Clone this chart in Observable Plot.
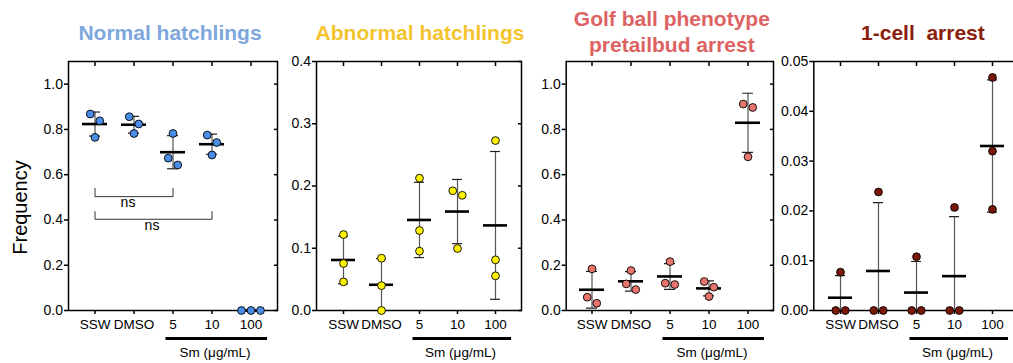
<!DOCTYPE html>
<html>
<head>
<meta charset="utf-8">
<script src="https://cdn.jsdelivr.net/npm/d3@7"></script>
<script src="https://cdn.jsdelivr.net/npm/@observablehq/plot@0.6"></script>
<style>
  html, body { margin: 0; padding: 0; background: #fff; overflow: hidden; }
  #wrap { position: relative; width: 1013px; height: 363px; overflow: hidden; background: #fff;
          font-family: "Liberation Sans", Arial, Helvetica, sans-serif; }
</style>
</head>
<body>
<div id="wrap"></div>
<script>
// ---------------- data ----------------
const categories = ["SSW", "DMSO", "5", "10", "100"];

const normalHatchlings = [
  [0.868, 0.838, 0.765],
  [0.856, 0.824, 0.782],
  [0.782, 0.673, 0.643],
  [0.775, 0.742, 0.687],
  [0, 0, 0]
];
const abnormalHatchlings = [
  [0.122, 0.0755, 0.046],
  [0.084, 0.040, 0],
  [0.2126, 0.1285, 0.0953],
  [0.1923, 0.185, 0.0996],
  [0.273, 0.0814, 0.0557]
];
const golfBallArrest = [
  [0.184, 0.0588, 0.032],
  [0.1765, 0.1176, 0.0926],
  [0.216, 0.1147, 0.1206],
  [0.128, 0.103, 0.0618],
  [0.912, 0.897, 0.679]
];
const oneCellArrest = [
  [0.0077, 0, 0],
  [0.0238, 0, 0],
  [0.0108, 0, 0],
  [0.0207, 0, 0],
  [0.0468, 0.0320, 0.0203]
];

const titles = ["Normal hatchlings", "Abnormal hatchlings", "Golf ball phenotype\npretailbud arrest", "1-cell  arrest"];
const yMax = [1.1, 0.4, 1.1, 0.05];
const yTicks = [
  [0, 0.2, 0.4, 0.6, 0.8, 1.0],
  [0, 0.1, 0.2, 0.3, 0.4],
  [0, 0.2, 0.4, 0.6, 0.8, 1.0],
  [0, 0.01, 0.02, 0.03, 0.04, 0.05]
];
const yTickFormats = [".1f", ".1f", ".1f", ".2f"];
const yLabel = "Frequency";
const treatmentLabel = "Sm (μg/mL)";
const treatmentSpan = {from: "5", to: "100", mid: "10", y: 0};
const comparisons = [
  {k: 0, from: "SSW", to: "5", label: "ns", y: 0.503, top: 0.54},
  {k: 1, from: "SSW", to: "10", label: "ns", y: 0.403, top: 0.437}
];

// ---------------- styles / layout ----------------
const titleColors = ["#7EA7DE", "#F4C42E", "#DD6262", "#8A1D0C"];
const dotColors = ["#4A8DE6", "#FFF200", "#E8756D", "#7A1808"];
const layout = [
  {left: 0,   width: 288, marginLeft: 68,   marginRight: 11,  titleDx: -3, titleDy: -22},
  {left: 288, width: 252, marginLeft: 28,   marginRight: 19,  titleDx: 1,  titleDy: -22},
  {left: 540, width: 240, marginLeft: 25.7, marginRight: 7,   titleDx: 2,  titleDy: -9.5},
  {left: 780, width: 244, marginLeft: 33.3, marginRight: 4.5, titleDx: 6,  titleDy: -22}
];
const FONT = "'Liberation Sans', Arial, Helvetica, sans-serif";

// GraphPad-like scatter: points overlapping vertically are placed side by side,
// computed in pixel space from Plot's own scales.
function swarm(r, spacing) {
  return (data, facets, channels, scales) => {
    const X = channels.x.value, Y = channels.y.value;
    const sx = scales.x, sy = scales.y;
    const n = X.length;
    const px = new Float64Array(n), py = new Float64Array(n);
    for (let i = 0; i < n; ++i) py[i] = sy(Y[i]);
    const groups = d3.group(d3.range(n), i => X[i]);
    for (const [cat, idx] of groups) {
      const cx = sx(cat);
      idx.sort((a, b) => py[a] - py[b]);
      let cluster = [];
      const flush = () => {
        cluster.forEach((j, k) => px[j] = cx + (k - (cluster.length - 1) / 2) * spacing);
        cluster = [];
      };
      for (const j of idx) {
        if (cluster.length && py[j] - py[cluster[cluster.length - 1]] >= 2 * r + 1) flush();
        cluster.push(j);
      }
      flush();
    }
    return {data, facets, channels: {x: {value: px}, y: {value: py}}};
  };
}

function panel(i, values) {
  const L = layout[i];
  const rows = categories.flatMap((c, k) => values[k].map(v => ({cat: c, v})));
  const summary = categories.map((c, k) => {
    const m = d3.mean(values[k]);
    const s = d3.deviation(values[k]) || 0;
    return {cat: c, mean: m, lo: m - s, hi: m + s};
  });
  const fmt = d3.format(yTickFormats[i]);
  const marks = [
    Plot.frame({stroke: "black", strokeWidth: 1.5}),
    Plot.axisY({anchor: "left", ticks: yTicks[i], tickFormat: fmt, tickSize: 4, tickPadding: 1.5,
                fontSize: 14, label: null, strokeWidth: 1.5}),
    Plot.axisY({anchor: "right", ticks: yTicks[i], tickFormat: () => "", tickSize: -4, label: null, strokeWidth: 1.5}),
    Plot.axisX({anchor: "bottom", tickSize: 4, tickPadding: 5, fontSize: 13.5, label: null, strokeWidth: 1.5}),
    Plot.axisX({anchor: "top", tickSize: -4, tickFormat: () => "", label: null, strokeWidth: 1.5}),
    // error bars (mean ± SD)
    Plot.ruleX(summary, {x: "cat", y1: "lo", y2: "hi", stroke: "#555", strokeWidth: 1.2, clip: true}),
    Plot.tickY(summary, {x: "cat", y: "hi", insetLeft: 14, insetRight: 14, stroke: "#222", strokeWidth: 1.2, clip: true}),
    Plot.tickY(summary, {x: "cat", y: "lo", insetLeft: 14, insetRight: 14, stroke: "#222", strokeWidth: 1.2, clip: true}),
    Plot.tickY(summary, {x: "cat", y: "mean", insetLeft: 7, insetRight: 7, stroke: "black", strokeWidth: 2.6}),
    // treatment bar and label
    Plot.ruleY([treatmentSpan], {x1: "from", x2: "to", y: "y", dy: 28, insetLeft: 12.5, insetRight: 3,
                                 stroke: "black", strokeWidth: 3}),
    Plot.text([treatmentSpan], {x: "mid", y: "y", text: () => treatmentLabel, dy: 42, dx: 3,
                                fontSize: 13.5, lineAnchor: "middle", fill: "black"}),
    // title
    Plot.text([titles[i]], {text: d => d, frameAnchor: "top", lineAnchor: "bottom", dx: L.titleDx, dy: L.titleDy,
                            fontSize: 21, fontWeight: "bold", fill: titleColors[i], lineHeight: 1.22}),
    // points
    Plot.dot(rows, {x: "cat", y: "v", r: 3.9, fill: dotColors[i], stroke: "black", strokeWidth: 0.9,
                    initializer: swarm(3.9, 9.5)})
  ];
  if (i === 0) {
    const pathPts = comparisons.flatMap(c => [
      {k: c.k, cat: c.from, y: c.top}, {k: c.k, cat: c.from, y: c.y},
      {k: c.k, cat: c.to, y: c.y}, {k: c.k, cat: c.to, y: c.top}
    ]);
    marks.push(
      Plot.line(pathPts, {x: "cat", y: "y", z: "k", stroke: "#333", strokeWidth: 1}),
      Plot.text([comparisons[0]], {x: () => "DMSO", y: "y", text: "label", dy: 6, dx: -6, fontSize: 14, lineAnchor: "middle"}),
      Plot.text([comparisons[1]], {x: () => "5", y: "y", text: "label", dy: 6.5, dx: -21, fontSize: 14, lineAnchor: "middle"}),
      Plot.text([yLabel], {text: d => d, frameAnchor: "left", rotate: -90, dx: -42, dy: 21.5,
                           textAnchor: "middle", lineAnchor: "bottom", fontSize: 20})
    );
  }
  const svg = Plot.plot({
    width: L.width,
    height: 363,
    marginTop: 61,
    marginBottom: 53,
    marginLeft: L.marginLeft,
    marginRight: L.marginRight,
    x: {type: "band", domain: categories, paddingInner: 0, paddingOuter: 0.15},
    y: {domain: [0, yMax[i]]},
    style: {background: "transparent", fontFamily: FONT, fontSize: "13.5px", color: "black", overflow: "visible", maxWidth: "none"},
    marks
  });
  svg.style.position = "absolute";
  svg.style.left = L.left + "px";
  svg.style.top = "0px";
  svg.style.maxWidth = "none";
  svg.style.background = "transparent";
  return svg;
}

const wrap = document.getElementById("wrap");
[normalHatchlings, abnormalHatchlings, golfBallArrest, oneCellArrest].forEach((vals, i) => {
  wrap.appendChild(panel(i, vals));
});
</script>
</body>
</html>
